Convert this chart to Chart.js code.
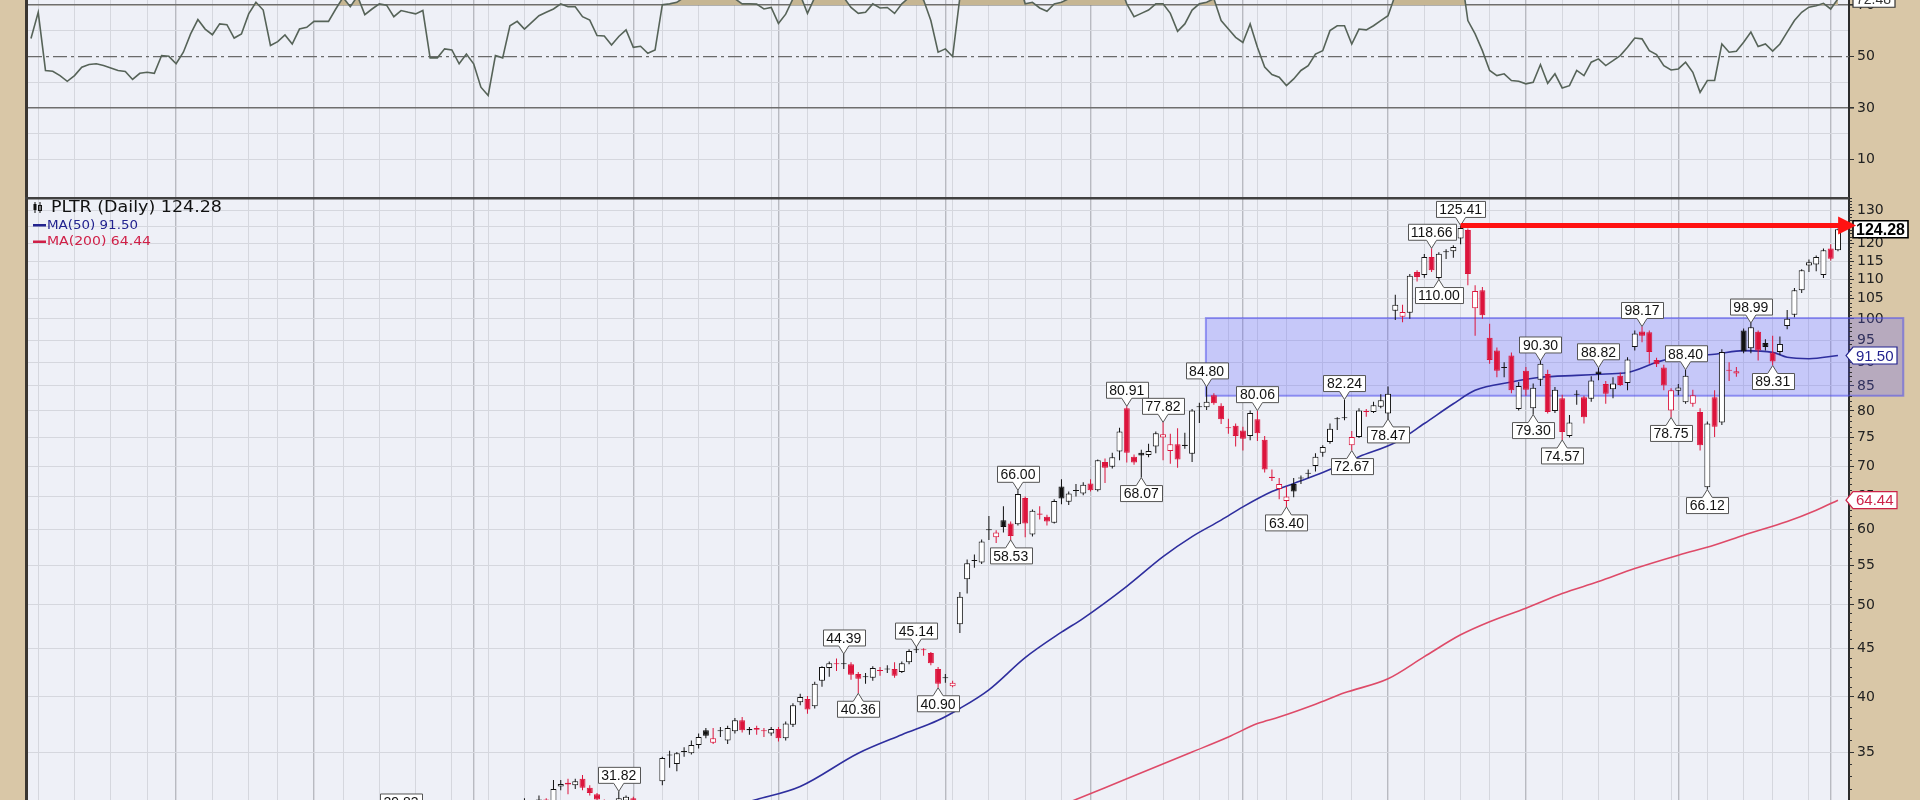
<!DOCTYPE html>
<html>
<head>
<meta charset="utf-8">
<title>PLTR (Daily)</title>
<script src="https://cdn.jsdelivr.net/npm/chart.js@4.4.1/dist/chart.umd.min.js"></script>
<style>
  html, body { margin: 0; padding: 0; background: #d9c7a7; }
  #page { position: relative; width: 1920px; height: 800px; overflow: hidden; }
  #rsiChart { position: absolute; left: 0; top: 0; }
  #priceChart { position: absolute; left: 0; top: 197px; }
</style>
</head>
<body>
<div id="page">
  <canvas id="rsiChart" width="1920" height="197"></canvas>
  <canvas id="priceChart" width="1920" height="603"></canvas>
</div>
<script>
// ---- values: PLTR daily, May 2024 - May 2025 ----
const startDate = '2024-05-03';
const barCount = 250;
const marketHolidays = ['2024-05-27', '2024-06-19', '2024-07-04', '2024-09-02', '2024-11-28',
  '2024-12-25', '2025-01-01', '2025-01-09', '2025-01-20', '2025-02-17', '2025-04-18'];

// candles before this bar sit below the visible price range
const firstCandle = 66;

const opens = [
  27.0, 28.6, 29.6, 30.9, 30.7, 31.2, 31.0, 32.2, 32.5, 32.3,
  32.8, 32.1, 31.6, 31.0, 30.7, 30.9, 31.1, 31.3, 30.2, 30.0,
  30.4, 32.6, 34.7, 34.0, 35.0, 34.9, 35.6, 36.9, 35.8, 36.8,
  36.0, 36.8, 37.8, 36.9, 37.1, 36.85, 36.6, 37.0, 36.2, 37.4,
  39.5, 39.8, 39.1, 41.6, 42.9, 43.4, 43.3, 43.3, 42.3, 41.95,
  41.9, 42.7, 42.75, 42.8, 42.5, 43.5, 44.8, 44.9, 44.5, 42.8,
  41.85, 41.05, 47.7, 53.2, 55.6, 55.4, 59.9, 58.9, 61.4, 60.9,
  60.8, 64.8, 59.3, 62.4, 61.9, 61.0, 66.6, 64.2, 65.9, 65.5,
  67.1, 66.0, 70.7, 69.9, 72.5, 80.5, 71.6, 72.3, 71.9, 73.4,
  75.0, 72.6, 73.8, 73.5, 72.1, 80.7, 80.7, 83.1, 81.0, 76.9,
  77.2, 76.3, 75.3, 78.4, 74.6, 68.2, 66.2, 64.3, 67.0, 67.9,
  68.7, 70.0, 72.3, 74.2, 78.4, 78.6, 73.6, 75.1, 80.0, 79.8,
  80.8, 79.5, 102.0, 100.5, 101.5, 112.0, 111.2, 116.2, 110.4, 117.5,
  117.8, 121.5, 124.0, 102.6, 107.2, 95.5, 92.6, 88.8, 91.5, 80.4,
  88.2, 80.5, 86.3, 87.5, 80.0, 82.5, 75.3, 83.2, 82.7, 82.4,
  88.0, 85.4, 84.3, 87.1, 85.6, 93.4, 97.0, 96.8, 90.5, 88.9,
  80.1, 84.0, 81.7, 81.4, 79.8, 66.5, 82.7, 77.8, 88.3, 87.6,
  97.2, 93.1, 96.9, 94.3, 92.2, 92.3, 98.3, 101.0, 107.2, 113.8,
  114.1, 111.2, 118.6, 118.1
];
const highs = [
  28.9, 29.4, 31.3, 31.1, 31.5, 31.3, 32.7, 32.7, 32.8, 32.8,
  33.1, 32.3, 31.7, 31.2, 31.1, 31.82, 31.5, 31.4, 30.6, 30.8,
  30.9, 34.6, 35.1, 35.0, 35.4, 36.0, 36.6, 37.1, 37.1, 37.2,
  37.3, 38.0, 38.1, 37.2, 37.3, 37.1, 37.2, 37.2, 37.7, 39.4,
  40.3, 40.1, 41.5, 43.1, 43.6, 43.9, 44.39, 43.5, 42.5, 42.4,
  43.1, 43.0, 43.2, 43.5, 43.6, 44.9, 45.14, 45.0, 44.6, 43.0,
  42.3, 41.6, 51.6, 55.8, 56.5, 58.6, 62.0, 59.9, 63.5, 61.2,
  66.0, 65.0, 63.0, 63.5, 62.2, 64.6, 67.8, 65.8, 67.0, 67.3,
  67.8, 71.1, 71.3, 72.3, 76.8, 80.91, 72.0, 72.8, 73.9, 76.1,
  77.82, 75.7, 76.7, 75.9, 80.4, 81.6, 84.80, 83.5, 81.5, 78.5,
  77.6, 77.0, 80.1, 80.06, 75.3, 69.4, 68.0, 66.6, 68.0, 68.4,
  69.4, 72.2, 73.6, 77.6, 78.8, 82.24, 76.2, 80.5, 80.4, 81.8,
  83.3, 84.9, 106.0, 103.5, 111.5, 112.5, 117.0, 118.66, 117.5, 118.4,
  119.5, 125.41, 124.5, 108.5, 108.0, 98.8, 93.3, 90.0, 92.2, 85.8,
  89.0, 85.5, 90.30, 88.4, 84.8, 83.2, 79.2, 84.1, 83.0, 87.0,
  88.82, 86.0, 86.8, 87.8, 91.1, 97.2, 98.17, 97.2, 91.0, 89.5,
  84.5, 85.4, 88.40, 84.2, 80.5, 78.0, 84.1, 92.9, 90.0, 89.0,
  97.7, 98.99, 97.2, 95.2, 96.0, 95.8, 102.2, 107.8, 112.8, 115.5,
  116.6, 118.6, 119.8, 124.5
];
const lows = [
  26.8, 28.1, 29.3, 30.2, 30.5, 30.6, 30.8, 31.9, 31.6, 32.0,
  31.9, 31.5, 30.8, 30.2, 30.4, 30.7, 30.8, 30.0, 29.6, 29.8,
  29.9, 32.3, 33.7, 33.4, 34.6, 34.8, 35.3, 36.2, 35.7, 36.3,
  35.7, 36.6, 36.7, 36.5, 36.5, 36.3, 36.4, 35.9, 36.0, 37.2,
  39.2, 38.4, 38.9, 41.0, 42.0, 42.6, 42.8, 41.7, 40.36, 41.3,
  41.6, 42.1, 42.4, 41.9, 42.4, 43.3, 44.5, 44.2, 43.2, 40.90,
  41.4, 40.95, 46.7, 51.4, 54.7, 55.2, 58.5, 58.1, 59.6, 58.53,
  60.6, 58.9, 59.0, 61.5, 60.6, 60.9, 63.8, 63.7, 65.0, 65.2,
  65.8, 65.8, 67.2, 69.6, 71.0, 70.6, 70.2, 68.07, 71.5, 72.2,
  71.0, 70.4, 69.7, 73.0, 70.7, 77.7, 80.2, 81.2, 77.5, 75.7,
  73.4, 72.7, 74.5, 74.4, 68.9, 67.5, 64.6, 63.40, 64.9, 67.0,
  68.0, 69.1, 71.6, 73.9, 76.4, 78.2, 72.67, 74.9, 78.9, 79.6,
  80.5, 78.47, 99.7, 99.2, 100.0, 109.5, 110.5, 112.0, 110.00, 115.6,
  116.0, 119.8, 108.5, 96.0, 100.0, 89.7, 86.8, 86.8, 83.5, 80.1,
  83.0, 79.30, 85.0, 79.5, 79.6, 74.57, 75.0, 81.2, 77.6, 81.8,
  86.2, 81.4, 82.5, 85.0, 84.1, 92.6, 94.5, 89.7, 89.0, 84.1,
  78.75, 83.1, 81.4, 80.8, 72.7, 66.12, 75.1, 77.3, 86.0, 86.9,
  92.0, 92.0, 90.4, 92.6, 89.31, 91.6, 97.5, 100.4, 106.5, 112.0,
  112.2, 110.4, 115.2, 117.8
];
const closes = [
  28.6, 28.5, 30.9, 30.6, 31.2, 31.0, 32.0, 32.4, 32.35, 32.6,
  32.1, 31.7, 31.2, 30.6, 30.9, 31.3, 31.4, 30.3, 30.0, 30.3,
  30.1, 34.5, 34.8, 34.9, 35.05, 35.6, 36.3, 36.4, 36.2, 36.9,
  37.1, 37.8, 36.9, 37.0, 36.95, 36.8, 37.0, 36.2, 37.5, 39.2,
  40.0, 38.8, 41.3, 43.0, 43.4, 43.3, 43.4, 42.2, 41.8, 42.0,
  42.9, 42.6, 42.8, 42.1, 43.4, 44.7, 44.9, 44.8, 43.4, 41.3,
  41.9, 41.4, 51.0, 55.3, 55.7, 58.3, 60.0, 59.6, 60.4, 59.1,
  65.4, 60.9, 62.8, 62.2, 61.2, 64.3, 64.7, 65.5, 66.0, 66.9,
  66.0, 71.0, 69.7, 71.5, 76.1, 72.3, 70.6, 71.8, 72.6, 75.8,
  75.6, 73.8, 71.1, 73.7, 80.1, 80.9, 81.8, 81.5, 78.4, 76.7,
  75.3, 74.8, 79.6, 75.8, 69.4, 68.0, 67.0, 65.0, 65.8, 68.0,
  68.8, 71.6, 73.3, 76.6, 78.5, 78.7, 75.1, 80.1, 79.8, 81.1,
  82.1, 83.4, 103.5, 101.7, 111.0, 110.7, 116.2, 112.5, 117.1, 117.7,
  119.0, 124.6, 111.5, 107.0, 100.9, 90.5, 88.2, 89.0, 84.1, 85.0,
  84.2, 84.6, 89.7, 79.8, 84.2, 76.0, 77.8, 83.4, 78.8, 86.1,
  87.5, 83.4, 85.5, 85.2, 90.6, 96.5, 96.0, 92.3, 89.6, 85.1,
  84.1, 84.7, 87.1, 83.1, 73.6, 77.6, 77.0, 92.3, 88.2, 88.1,
  92.4, 98.0, 92.6, 93.4, 90.2, 94.1, 100.0, 107.2, 112.5, 114.7,
  116.2, 118.1, 115.7, 124.28
];

// RSI(14), one value per bar from the first bar of the window
const rsi14 = [
  57, 67.2, 44.6, 44.3, 42.6, 40.4, 42.6, 45.9, 46.9, 47.2,
  46.5, 45.6, 44.6, 44.2, 41.1, 43.5, 43.9, 43.5, 50.4, 50.1,
  47.2, 51.7, 58.8, 64.4, 60.7, 58.5, 62.7, 62.4, 57.2, 58.8,
  66.6, 71.1, 68.1, 54.3, 55.8, 58.4, 54.9, 60.7, 61.4, 63.7,
  63.7, 63.7, 68.5, 73.0, 69.4, 73.5, 66.3, 68.5, 70.5, 70.0,
  65.5, 67.9, 67.2, 66.6, 67.9, 49.5, 49.5, 53.0, 52.6, 47.2,
  51.0, 47.2, 38.1, 34.9, 50.4, 49.5, 62.0, 63.7, 60.7, 63.3,
  65.9, 67.2, 68.5, 70.5, 69.4, 69.4, 65.5, 64.2, 58.2, 58.0,
  54.5, 57.8, 60.4, 53.6, 54.0, 51.3, 52.6, 70.2, 70.5, 71.1,
  73, 75, 76, 77, 75, 76, 77, 72.5, 70.5, 70.5,
  70.4, 68.5, 69.1, 62.9, 66.5, 72.5, 74, 66.8, 73, 76,
  77, 74, 73, 69.1, 66.8, 67.2, 70.5, 68.9, 69.1, 66.8,
  70.5, 73, 74, 72, 64.0, 51.7, 53.0, 50.0, 73, 79,
  80, 83, 83, 81, 83, 78, 80, 70.5, 71.1, 68.9,
  67.6, 70.5, 71.1, 72.5, 73, 74, 73, 76, 75, 76,
  78, 70.5, 65.5, 66.8, 68.1, 70.5, 70.5, 66.8, 59.8, 62.7,
  68.1, 70.5, 71.1, 72.5, 64.0, 60.7, 57.5, 55.5, 62.7, 53.6,
  45.9, 43.0, 42.0, 38.7, 41.3, 44.6, 46.5, 51.0, 52.3, 60.1,
  62.0, 62.0, 54.9, 60.7, 60.4, 62.0, 64.0, 65.9, 74, 73,
  80, 79, 82, 79, 81, 81, 82, 84, 64.0, 58.8,
  52.3, 44.6, 42.6, 43.3, 40.7, 40.4, 39.4, 40.0, 46.9, 39.6,
  43.3, 37.8, 38.7, 44.6, 42.6, 47.8, 49.1, 46.5, 48.4, 50.4,
  53.6, 57.2, 56.9, 52.3, 50.8, 46.5, 44.8, 45.2, 47.8, 43.9,
  36.1, 40.7, 40.7, 54.9, 51.7, 52.1, 55.6, 59.5, 53.9, 54.9,
  52.1, 54.9, 59.5, 64.0, 67.2, 69.2, 69.8, 70.7, 68.5, 72.48
];

// moving averages: [bar, value]
const ma50 = [[98, 30.9], [100, 31.2], [106, 32.2], [114, 34.9], [120, 36.5], [125, 37.8],
  [128, 38.9], [132, 40.7], [137, 44.0], [142, 46.8], [145, 48.4], [151, 52.3], [156, 56.2],
  [160, 59.0], [164, 61.4], [167, 63.4], [171, 65.8], [174, 67.1], [178, 68.9], [183, 71.6],
  [188, 74.1], [192, 77.6], [196, 81.4], [199, 84.1], [204, 85.8], [208, 86.8], [213, 87.2],
  [217, 87.5], [220, 87.8], [224, 90.0], [227, 91.3], [232, 91.8], [236, 92.6], [240, 92.2],
  [242, 91.1], [245, 90.8], [249, 91.50]];
const ma200 = [[140, 30.3], [144, 31.2], [151, 32.8], [160, 35.0], [165, 36.3], [169, 37.5],
  [172, 38.1], [177, 39.3], [181, 40.4], [187, 41.8], [192, 44.1], [197, 46.5], [201, 48.0],
  [206, 49.6], [211, 51.4], [216, 52.9], [221, 54.6], [227, 56.4], [232, 57.8], [236, 59.2],
  [242, 61.2], [246, 62.9], [249, 64.44]];

const priceTicks = [35, 40, 45, 50, 55, 60, 65, 70, 75, 80, 85, 90, 95, 100, 105, 110, 115, 120, 125, 130];
const rsiGrid = [10, 20, 30, 40, 50, 60, 70];
const rsiLabels = [10, 30, 50, 70];

// swing annotations: [bar, price]
const swingHighs = [[51, 29.83], [81, 31.82], [112, 44.39], [122, 45.14], [136, 66.00], [151, 80.91],
  [156, 77.82], [162, 84.80], [169, 80.06], [181, 82.24], [193, 118.66], [197, 125.41],
  [208, 90.30], [216, 88.82], [222, 98.17], [228, 88.40], [237, 98.99]];
const swingLows = [[114, 40.36], [125, 40.90], [135, 58.53], [153, 68.07], [173, 63.40],
  [182, 72.67], [187, 78.47], [194, 110.00], [207, 79.30], [211, 74.57], [226, 78.75],
  [231, 66.12], [240, 89.31]];

// drawn-in channel and breakout arrow
const channelBars = [161.9, 258];
const channelPrices = [83.0, 100.2];
const arrowBars = [197, 251.5];
const arrowPrice = 125.41;

// ---- trading calendar for the vertical grid ----
function tradingDays(start, count) {
  const days = [];
  const d = new Date(start + 'T12:00:00Z');
  while (days.length < count) {
    const iso = d.toISOString().slice(0, 10);
    const wd = d.getUTCDay();
    if (wd > 0 && wd < 6 && !marketHolidays.includes(iso)) days.push(new Date(d));
    d.setUTCDate(d.getUTCDate() + 1);
  }
  return days;
}
const days = tradingDays(startDate, barCount);
const weekLines = [];
const monthLines = new Set();
for (let i = 1; i < days.length; i++) {
  const newMonth = days[i].getUTCMonth() !== days[i - 1].getUTCMonth();
  const newWeek = days[i].getUTCDay() < days[i - 1].getUTCDay();
  if (newMonth) monthLines.add(i);
  if (newWeek || newMonth) weekLines.push(i);
}

// ---- styling ----
const TAN = '#d9c7a7';
const PLOT_BG = '#eef0f7';
const FRAME = '#3a3632';
const GRID = '#d5d7de';
const GRID_MONTH = '#b8bac1';
const UP = '#111111';
const DOWN = '#dc143c';
const AXIS_FONT = { family: 'DejaVu Sans', size: 14 };
const LABEL_FONT = '14px "Liberation Sans", Arial, sans-serif';

const candleColor = closes.map((c, k) => (k > 0 && c < closes[k - 1]) ? DOWN : UP);
const hollow = closes.map((c, k) => c > opens[k]);

const X_MIN = -0.41, X_MAX = 250.52;

function timeAxis() {
  return {
    type: 'linear', min: X_MIN, max: X_MAX, offset: false, bounds: 'data',
    afterBuildTicks: s => { s.ticks = weekLines.map(v => ({ value: v })); },
    afterFit: s => { s.height = 0; },
    ticks: { display: false },
    grid: {
      offset: false, drawTicks: false,
      color: c => (c.tick && monthLines.has(c.tick.value)) ? GRID_MONTH : GRID,
      lineWidth: c => (c.tick && monthLines.has(c.tick.value)) ? 1.4 : 1
    },
    border: { display: false }
  };
}

function paintBackground(chart) {
  const { ctx, chartArea: a, width, height } = chart;
  ctx.save();
  ctx.fillStyle = TAN;
  ctx.fillRect(0, 0, width, height);
  ctx.fillStyle = PLOT_BG;
  ctx.fillRect(a.left, a.top, a.right - a.left, a.bottom - a.top);
  ctx.fillStyle = FRAME;
  ctx.fillRect(a.left - 3, 0, 3, height);
  ctx.restore();
}

function callout(ctx, x, yTip, text, below) {
  ctx.save();
  ctx.font = LABEL_FONT;
  const w = Math.ceil(ctx.measureText(text).width) + 6;
  const h = 16, tail = 8, half = 5;
  const dir = below ? 1 : -1;
  const yNear = yTip + dir * tail;
  const yFar = yNear + dir * h;
  const left = Math.round(x - w / 2) + 0.5;
  ctx.beginPath();
  ctx.moveTo(x, yTip);
  ctx.lineTo(x + half, yNear);
  ctx.lineTo(left + w, yNear);
  ctx.lineTo(left + w, yFar);
  ctx.lineTo(left, yFar);
  ctx.lineTo(left, yNear);
  ctx.lineTo(x - half, yNear);
  ctx.closePath();
  ctx.fillStyle = '#ffffff';
  ctx.fill();
  ctx.lineWidth = 1;
  ctx.strokeStyle = '#555555';
  ctx.stroke();
  ctx.fillStyle = '#111111';
  ctx.textAlign = 'center';
  ctx.textBaseline = 'middle';
  ctx.fillText(text, x, (yNear + yFar) / 2 + 1);
  ctx.restore();
}

function axisTag(ctx, axisX, y, text, o) {
  ctx.save();
  ctx.font = o.font;
  const left = axisX + 4;
  const w = Math.ceil(ctx.measureText(text).width) + 6;
  const h = 17;
  ctx.beginPath();
  if (o.pointed) {
    ctx.moveTo(axisX - 3, y);
    ctx.lineTo(left, y - h / 2);
  } else {
    ctx.moveTo(left, y);
    ctx.lineTo(left, y - h / 2);
  }
  ctx.lineTo(left + w, y - h / 2);
  ctx.lineTo(left + w, y + h / 2);
  ctx.lineTo(left, y + h / 2);
  ctx.closePath();
  ctx.fillStyle = '#ffffff';
  ctx.fill();
  ctx.lineWidth = o.lineWidth || 1.2;
  ctx.strokeStyle = o.color;
  ctx.stroke();
  ctx.fillStyle = o.color;
  ctx.textAlign = 'left';
  ctx.textBaseline = 'middle';
  ctx.fillText(text, left + 3, y + 1);
  ctx.restore();
}

// text drawn to a fixed width (the source renders its header font wide)
function wideText(ctx, text, x, y, width) {
  const w = ctx.measureText(text).width;
  ctx.save();
  ctx.translate(x, y);
  ctx.scale(width / w, 1);
  ctx.fillText(text, 0, 0);
  ctx.restore();
}

// ---- RSI panel ----
const rsiPanel = {
  id: 'rsiPanel',
  beforeDraw: chart => paintBackground(chart),
  beforeDatasetsDraw(chart) {
    const { ctx, chartArea: a, scales } = chart;
    const y = scales.y.getPixelForValue(50);
    ctx.save();
    ctx.strokeStyle = '#6a6a6a';
    ctx.lineWidth = 1.3;
    ctx.setLineDash([14, 4, 3, 4]);
    ctx.beginPath();
    ctx.moveTo(a.left, y);
    ctx.lineTo(a.right, y);
    ctx.stroke();
    ctx.restore();
  },
  afterDraw(chart) {
    const { ctx, scales } = chart;
    const last = rsi14[rsi14.length - 1];
    axisTag(ctx, scales.y.left, scales.y.getPixelForValue(last), last.toFixed(2),
      { font: '14px "Liberation Sans", Arial, sans-serif', color: '#333333' });
  }
};

new Chart(document.getElementById('rsiChart'), {
  type: 'line',
  data: {
    datasets: [{
      label: 'RSI(14)',
      data: rsi14.map((v, i) => ({ x: i, y: v })),
      borderColor: '#566358',
      borderWidth: 1.6,
      pointRadius: 0,
      tension: 0,
      fill: { target: { value: 70 }, above: '#c6b693', below: 'rgba(0,0,0,0)' }
    }]
  },
  options: {
    responsive: false,
    animation: false,
    events: [],
    layout: { padding: { left: 28, right: 0, top: 0, bottom: 0 } },
    plugins: { legend: { display: false }, tooltip: { enabled: false } },
    scales: {
      x: timeAxis(),
      y: {
        position: 'right', min: -4.6, max: 72, bounds: 'data',
        afterBuildTicks: s => { s.ticks = rsiGrid.map(v => ({ value: v })); },
        afterFit: s => { s.width = 71; s.paddingTop = 0; s.paddingBottom = 0; },
        ticks: {
          autoSkip: false, padding: 3, color: '#222222', font: AXIS_FONT,
          callback: v => rsiLabels.includes(v) ? String(v) : ''
        },
        grid: {
          color: c => {
            const v = c.tick ? c.tick.value : null;
            if (v === 30 || v === 70) return '#6e6e6e';
            if (v === 50) return 'rgba(0,0,0,0)';
            return GRID;
          },
          lineWidth: c => (c.tick && (c.tick.value === 30 || c.tick.value === 70)) ? 1.6 : 1,
          tickColor: c => (c.tick && rsiLabels.includes(c.tick.value)) ? '#333333' : 'rgba(0,0,0,0)',
          tickLength: 5
        },
        border: { color: '#2b2b2b', width: 2 }
      }
    }
  },
  plugins: [rsiPanel]
});

// ---- price panel ----
const pricePanel = {
  id: 'pricePanel',
  beforeDraw: chart => paintBackground(chart),
  beforeDatasetsDraw(chart) {
    const { ctx, scales } = chart;
    const x0 = scales.x.getPixelForValue(channelBars[0]);
    const x1 = scales.x.getPixelForValue(channelBars[1]);
    const yTop = scales.y.getPixelForValue(channelPrices[1]);
    const yBot = scales.y.getPixelForValue(channelPrices[0]);
    ctx.save();
    ctx.fillStyle = 'rgba(92, 92, 255, 0.27)';
    ctx.fillRect(x0, yTop, x1 - x0, yBot - yTop);
    ctx.strokeStyle = 'rgba(80, 80, 235, 0.55)';
    ctx.lineWidth = 2;
    ctx.strokeRect(x0, yTop, x1 - x0, yBot - yTop);
    ctx.restore();
  },
  afterDraw(chart) {
    const { ctx, chartArea: a, scales } = chart;
    const xP = v => scales.x.getPixelForValue(v);
    const yP = v => scales.y.getPixelForValue(v);
    const axisX = scales.y.left;

    // minor ticks on the price axis
    ctx.save();
    ctx.strokeStyle = '#333333';
    ctx.lineWidth = 1;
    ctx.beginPath();
    for (let v = 32; v <= 134; v++) {
      if (v % 5 === 0) continue;
      const y = Math.round(yP(v)) + 0.5;
      ctx.moveTo(axisX, y);
      ctx.lineTo(axisX + 3, y);
    }
    ctx.stroke();
    ctx.restore();

    // panel separator
    ctx.save();
    ctx.fillStyle = '#404040';
    ctx.fillRect(a.left - 3, 0, a.right - a.left + 3, 2.5);
    ctx.restore();

    swingHighs.forEach(([i, v]) => callout(ctx, xP(i), yP(v), v.toFixed(2), false));
    swingLows.forEach(([i, v]) => callout(ctx, xP(i), yP(v), v.toFixed(2), true));

    const lastClose = closes[closes.length - 1];
    const last50 = ma50[ma50.length - 1][1];
    const last200 = ma200[ma200.length - 1][1];
    axisTag(ctx, axisX, yP(last50), last50.toFixed(2),
      { font: '15px "Liberation Sans", Arial, sans-serif', color: '#23238f', pointed: true });
    axisTag(ctx, axisX, yP(last200), last200.toFixed(2),
      { font: '15px "Liberation Sans", Arial, sans-serif', color: '#cc2248', pointed: true });
    axisTag(ctx, axisX, yP(lastClose), lastClose.toFixed(2),
      { font: 'bold 16px "Liberation Sans", Arial, sans-serif', color: '#000000', lineWidth: 1.6 });

    // breakout arrow
    const yA = yP(arrowPrice);
    const xa = xP(arrowBars[0]);
    const xb = xP(arrowBars[1]);
    ctx.save();
    ctx.strokeStyle = '#ff1212';
    ctx.fillStyle = '#ff1212';
    ctx.lineWidth = 5;
    ctx.beginPath();
    ctx.moveTo(xa, yA);
    ctx.lineTo(xb - 14, yA);
    ctx.stroke();
    ctx.beginPath();
    ctx.moveTo(xb, yA);
    ctx.lineTo(xb - 18, yA - 9);
    ctx.lineTo(xb - 18, yA + 9);
    ctx.closePath();
    ctx.fill();
    ctx.restore();

    // legend block
    ctx.save();
    ctx.textBaseline = 'middle';
    ctx.fillStyle = '#111111';
    ctx.fillRect(33.5, 7, 3, 6);
    ctx.fillRect(34.5, 5, 1, 11);
    ctx.fillRect(39.5, 5, 1, 11);
    ctx.strokeStyle = '#111111';
    ctx.lineWidth = 1;
    ctx.strokeRect(38.5, 8.5, 3, 5);
    ctx.font = '15px "DejaVu Sans", Verdana, sans-serif';
    wideText(ctx, 'PLTR (Daily) ' + lastClose.toFixed(2), 51, 11, 171);
    ctx.font = '13px "DejaVu Sans", Verdana, sans-serif';
    ctx.fillStyle = '#23238f';
    ctx.fillRect(33, 27, 13, 2.5);
    wideText(ctx, 'MA(50) ' + last50.toFixed(2), 47, 28.5, 91);
    ctx.fillStyle = '#d02048';
    ctx.fillRect(33, 43.5, 13, 2.5);
    wideText(ctx, 'MA(200) ' + last200.toFixed(2), 47, 45, 104);
    ctx.restore();
  }
};

const bodies = opens.map((o, k) => ({ x: firstCandle + k, y: [o, closes[k]] }));
const wicks = lows.map((l, k) => ({ x: firstCandle + k, y: [l, highs[k]] }));

new Chart(document.getElementById('priceChart'), {
  type: 'bar',
  data: {
    datasets: [
      {
        label: 'body', data: bodies, order: 0,
        grouped: false, barPercentage: 1, categoryPercentage: 1, maxBarThickness: 6,
        minBarLength: 1, inflateAmount: 0, borderSkipped: false, borderWidth: 1,
        backgroundColor: c => hollow[c.dataIndex] ? '#ffffff' : candleColor[c.dataIndex],
        borderColor: c => candleColor[c.dataIndex]
      },
      {
        label: 'wick', data: wicks, order: 1,
        grouped: false, barPercentage: 1, categoryPercentage: 1, maxBarThickness: 1,
        inflateAmount: 0, borderWidth: 0,
        backgroundColor: c => candleColor[c.dataIndex]
      },
      {
        type: 'line', label: 'MA(50)', order: 2,
        data: ma50.map(p => ({ x: p[0], y: p[1] })),
        borderColor: '#2e2e9e', borderWidth: 1.6, pointRadius: 0, cubicInterpolationMode: 'monotone'
      },
      {
        type: 'line', label: 'MA(200)', order: 3,
        data: ma200.map(p => ({ x: p[0], y: p[1] })),
        borderColor: '#de4a68', borderWidth: 1.6, pointRadius: 0, cubicInterpolationMode: 'monotone'
      }
    ]
  },
  options: {
    responsive: false,
    animation: false,
    events: [],
    layout: { padding: { left: 28, right: 0, top: 0, bottom: 0 } },
    plugins: { legend: { display: false }, tooltip: { enabled: false } },
    scales: {
      x: timeAxis(),
      y: {
        type: 'logarithmic', position: 'right', min: 31.16, max: 134.36, bounds: 'data',
        afterBuildTicks: s => { s.ticks = priceTicks.map(v => ({ value: v })); },
        afterFit: s => { s.width = 71; s.paddingTop = 0; s.paddingBottom = 0; },
        ticks: { autoSkip: false, padding: 3, color: '#222222', font: AXIS_FONT, callback: v => String(v) },
        grid: { color: GRID, tickColor: '#333333', tickLength: 5, tickWidth: 1 },
        border: { color: '#2b2b2b', width: 2 }
      }
    }
  },
  plugins: [pricePanel]
});
</script>
</body>
</html>
